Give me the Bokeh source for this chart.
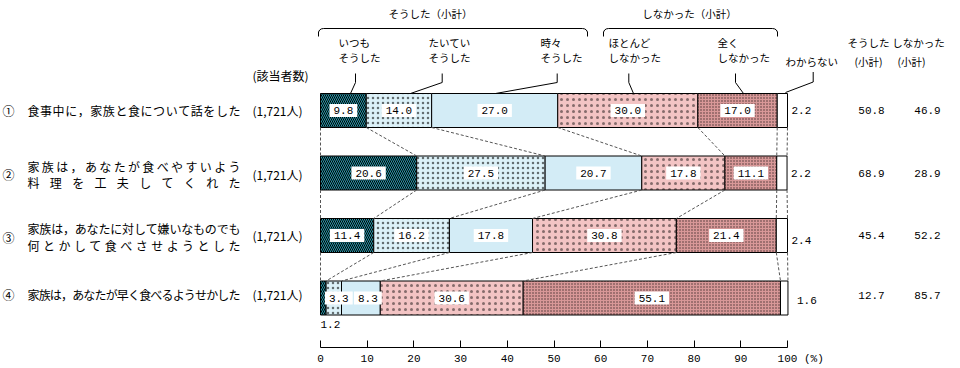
from bokeh.plotting import figure
from bokeh.models import Range1d, FixedTicker, ColumnDataSource
from bokeh.core.properties import value
from bokeh.embed import file_html
from bokeh.resources import INLINE
import numpy as np

# ---------------- data ----------------
categories = ["いつもそうした", "たいていそうした", "時々そうした",
              "ほとんどしなかった", "全くしなかった", "わからない"]
item_numbers = ["①", "②", "③", "④"]
item_lines = [["食事中に，家族と食について話をした"],
              ["家族は，あなたが食べやすいよう", "料理を工夫してくれた"],
              ["家族は，あなたに対して嫌いなものでも", "何とかして食べさせようとした"],
              ["家族は，あなたが早く食べるようせかした"]]
respondents = ["(1,721人)", "(1,721人)", "(1,721人)", "(1,721人)"]
always = [9.8, 20.6, 11.4, 1.2]
usually = [14.0, 27.5, 16.2, 3.3]
sometimes = [27.0, 20.7, 17.8, 8.3]
rarely = [30.0, 17.8, 30.8, 30.6]
never = [17.0, 11.1, 21.4, 55.1]
dont_know = [2.2, 2.2, 2.4, 1.6]
did_subtotal = [50.8, 68.9, 45.4, 12.7]
didnot_subtotal = [46.9, 28.9, 52.2, 85.7]
x_ticks = [0, 10, 20, 30, 40, 50, 60, 70, 80, 90, 100]

# ---------------- layout helpers ----------------
PX = 4.67          # pixels per percent
X0 = 320           # canvas px of 0 %
FW, FH = 960, 347  # frame size


def xd(cx):
    return (cx - X0) / PX


row_y = [110 + 62.5 * i for i in range(4)]
BAR_H = 34
JP = value("Noto Sans CJK JP")
MONO = value("Liberation Mono")

p = figure(frame_width=FW, frame_height=FH, output_backend="svg",
           toolbar_location=None, x_range=Range1d(xd(0), xd(FW)),
           y_range=Range1d(FH, 0), y_axis_type=None,
           min_border=0, min_border_left=0, min_border_right=0,
           min_border_top=0, min_border_bottom=0)
p.outline_line_color = None
p.grid.visible = False
p.background_fill_color = "white"
p.border_fill_color = "white"

# ---------------- bars ----------------
series = [always, usually, sometimes, rarely, never, dont_know]
vals = np.array(series, dtype=float)           # (6, 4)
rights = np.cumsum(vals, axis=0)
lefts = rights - vals
styles = [
    dict(fill_color="#2a98aa", hatch_pattern="left_diagonal_line", hatch_scale=4, hatch_weight=1),
    dict(fill_color="#dcf1f8", hatch_pattern="dot", hatch_scale=5, hatch_alpha=0.55),
    dict(fill_color="#d3ecf6"),
    dict(fill_color="#f3c4c4", hatch_pattern="dot", hatch_scale=6, hatch_alpha=0.45),
    dict(fill_color="#d89898", hatch_pattern="dot", hatch_scale=3, hatch_alpha=0.65),
    dict(fill_color="white"),
]
for k, st in enumerate(styles):
    src = ColumnDataSource(dict(y=row_y, left=lefts[k], right=rights[k]))
    p.hbar(y="y", left="left", right="right", height=BAR_H, source=src,
           line_color="black", line_width=1, hatch_color="black", **st)

# ---------------- dashed connectors ----------------
bounds = np.vstack([np.zeros(4), rights])      # (7, 4)
x0s, y0s, x1s, y1s = [], [], [], []
for i in range(3):
    for b in range(bounds.shape[0]):
        x0s.append(bounds[b, i]); y0s.append(row_y[i] + BAR_H / 2)
        x1s.append(bounds[b, i + 1]); y1s.append(row_y[i + 1] - BAR_H / 2)
p.segment(x0=x0s, y0=y0s, x1=x1s, y1=y1s, line_color="#555555",
          line_dash="3 2", line_width=1)

# ---------------- value labels in boxes ----------------
nudge = {(3, 1): 5, (3, 2): 7}
lx, ly, lt = [], [], []
for i in range(4):
    for k in range(5):
        if i == 3 and k == 0:
            continue
        cx = (lefts[k, i] + rights[k, i]) / 2 + nudge.get((i, k), 0) / PX
        lx.append(cx); ly.append(row_y[i]); lt.append(f"{vals[k, i]:.1f}")
p.text(x=lx, y=ly, text=lt, text_font=MONO, text_font_size="11px",
       text_align="center", text_baseline="middle", text_color="black",
       background_fill_color="white", padding=(4, 3))
# small value under bar 4
p.text(x=[0], y=[row_y[3] + 26], text=[f"{always[3]:.1f}"], text_font=MONO,
       text_font_size="11px", text_align="left", text_baseline="middle")
# don't-know values
dk_dx = [0, 0, 0, 5]
dk_dy = [0, 0, 5, 2]
p.text(x=[rights[5, i] + (4 + dk_dx[i]) / PX for i in range(4)],
       y=[row_y[i] + dk_dy[i] for i in range(4)],
       text=[f"{v:.1f}" for v in dont_know], text_font=MONO,
       text_font_size="11px", text_align="left", text_baseline="middle")
# subtotals
sub_dy = [0, 0, 0, -3]
p.text(x=[xd(871)] * 4, y=[row_y[i] + sub_dy[i] for i in range(4)],
       text=[f"{v:.1f}" for v in did_subtotal], text_font=MONO,
       text_font_size="11px", text_align="center", text_baseline="middle")
p.text(x=[xd(927)] * 4, y=[row_y[i] + sub_dy[i] for i in range(4)],
       text=[f"{v:.1f}" for v in didnot_subtotal], text_font=MONO,
       text_font_size="11px", text_align="center", text_baseline="middle")

# ---------------- left labels ----------------
cx_list, cy_list, ct_list = [], [], []
for i, lines in enumerate(item_lines):
    yc = row_y[i]
    ys = [yc - (4 if i == 3 else 0)] if len(lines) == 1 else [yc - 7, yc + 9.5]
    for line, yy in zip(lines, ys):
        n = len(line)
        L, R = 27 + 6, 240 - 6
        for j, ch in enumerate(line):
            cx_list.append(xd(L + j * (R - L) / (n - 1)))
            cy_list.append(yy)
            ct_list.append(ch)
p.text(x=cx_list, y=cy_list, text=ct_list, text_font=JP, text_font_size="12px",
       text_align="center", text_baseline="middle")
p.text(x=[xd(8)] * 4, y=[row_y[0], row_y[1] + 1, row_y[2] + 2, row_y[3] - 4],
       text=item_numbers, text_font=JP, text_font_size="12px",
       text_align="center", text_baseline="middle")
p.text(x=[xd(252)] * 4, y=[row_y[0], row_y[1] + 1, row_y[2], row_y[3] - 4],
       text=respondents, text_font=JP, text_font_size="12px",
       text_align="left", text_baseline="middle")
p.text(x=[xd(252)], y=[75], text=["(該当者数)"], text_font=JP,
       text_font_size="12px", text_align="left", text_baseline="middle")

# ---------------- header ----------------
HS = "10.5px"
p.text(x=[xd(430), xd(689)], y=[13, 13], text=["そうした（小計）", "しなかった（小計）"],
       text_font=JP, text_font_size=HS, text_align="center", text_baseline="middle")


def bracket(a, b, top=28, bot=36):
    xs = [a, a, a + 0.25, a + 0.6, a + 1.1, b - 1.1, b - 0.6, b - 0.25, b, b]
    ys = [bot, top + 3.5, top + 1.5, top + 0.4, top, top, top + 0.4, top + 1.5, top + 3.5, bot]
    return xs, ys


for a, b in [(xd(318), xd(587)), (xd(603), xd(777))]:
    bx, by = bracket(a, b)
    p.line(bx, by, line_color="black", line_width=1)

sub_heads = [("いつも", "そうした", 338), ("たいてい", "そうした", 428), ("時々", "そうした", 540),
             ("ほとんど", "しなかった", 608), ("全く", "しなかった", 717)]
tx, ty, tt = [], [], []
for l1, l2, cx in sub_heads:
    tx += [xd(cx), xd(cx)]; ty += [42, 57]; tt += [l1, l2]
tx += [xd(785), xd(868), xd(918), xd(868), xd(911)]
ty += [61, 42, 42, 61, 61]
tt += ["わからない", "そうした", "しなかった", "(小計)", "(小計)"]
aligns = ["left"] * 11 + ["center"] * 4
p.text(x=tx, y=ty, text=tt, text_font=JP, text_font_size=HS,
       text_align=aligns, text_baseline="middle")

# leader lines
leaders = [(355, 350), (441.7, 410), (556.7, 495), (628.3, 633), (735, 743)]
p.multi_line(xs=[[xd(a), xd(a), xd(b)] for a, b in leaders],
             ys=[[73, 82, 93]] * len(leaders), line_color="black", line_width=1)
p.line([xd(812.7), xd(812.7), xd(785)], [71.5, 81.5, 92], line_color="black", line_width=1)

# ---------------- axis ----------------
NB = "\u00a0"
ax = p.xaxis[0]
ax.bounds = (0, 100)
ax.ticker = FixedTicker(ticks=x_ticks)
ax.major_label_overrides = {100: NB * 4 + "100" + NB + "(%)"}
ax.major_tick_in = 7
ax.major_tick_out = 0
ax.minor_tick_in = 0
ax.minor_tick_out = 0
ax.axis_line_color = "black"
ax.major_tick_line_color = "black"
ax.major_label_text_font = "Liberation Mono"
ax.major_label_text_font_size = "11px"
ax.major_label_text_color = "black"
ax.major_label_standoff = 5

open("out.html", "w").write(file_html(p, INLINE))
